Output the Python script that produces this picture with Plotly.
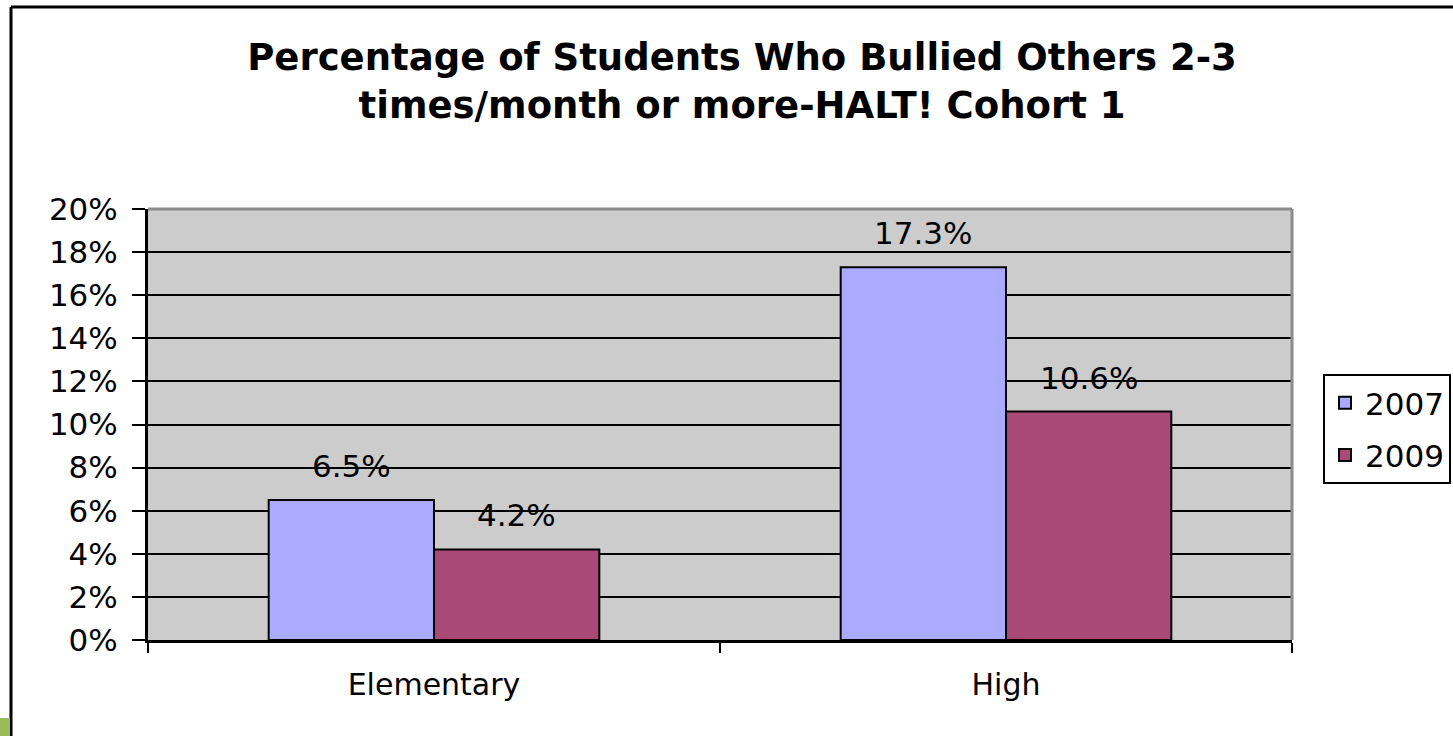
import plotly.graph_objects as go

categories = ["Elementary", "High"]
series_names = ["2007", "2009"]
values_2007 = [0.065, 0.173]
values_2009 = [0.042, 0.106]
bar_colors = ["#AAAAFF", "#A94A76"]
y_ticks = [0.0, 0.02, 0.04, 0.06, 0.08, 0.10, 0.12, 0.14, 0.16, 0.18, 0.20]
title_text = "Percentage of Students Who Bullied Others 2-3<br>times/month or more-HALT! Cohort 1"

W, H = 1453, 736
ML, MR, MT, MB = 148, 161, 209, 96
PW = W - ML - MR
PH = H - MT - MB
bargap = 0.422

def px_x(px):
    return (px - ML) / PW

def px_y(py):
    return (H - MB - py) / PH

fig = go.Figure()
all_vals = [values_2007, values_2009]
for name, vals, col in zip(series_names, all_vals, bar_colors):
    fig.add_trace(go.Bar(
        x=categories, y=vals, name=name, legendgroup=name,
        marker=dict(color=col, line=dict(color="black", width=2)),
        hoverinfo="skip",
    ))

# value labels above bars
off = (1 - bargap) / 4
for k, vals in enumerate(all_vals):
    sign = -1 if k == 0 else 1
    for i, v in enumerate(vals):
        fig.add_annotation(
            x=i + sign * off, y=v, xref="x", yref="y",
            text=f"{v*100:.1f}%", showarrow=False,
            yshift=34, yanchor="middle", xanchor="center",
            font=dict(family="DejaVu Sans", size=31, color="black"),
        )

shapes = []
# gray top and right plot borders
shapes.append(dict(type="line", xref="paper", yref="paper", x0=0, x1=1, y0=1, y1=1,
                   line=dict(color="#8C8C8C", width=3)))
shapes.append(dict(type="line", xref="paper", yref="paper", x0=1, x1=1, y0=0, y1=1,
                   line=dict(color="#8C8C8C", width=3)))
# outer frame (top and left)
shapes.append(dict(type="line", xref="paper", yref="paper", x0=px_x(11), x1=px_x(1460),
                   y0=px_y(7), y1=px_y(7), line=dict(color="black", width=3)))
shapes.append(dict(type="line", xref="paper", yref="paper", x0=px_x(11), x1=px_x(11),
                   y0=px_y(7), y1=px_y(740), line=dict(color="black", width=3)))
# green corner patch
shapes.append(dict(type="rect", xref="paper", yref="paper", x0=px_x(-2), x1=px_x(10),
                   y0=px_y(718), y1=px_y(740), line=dict(width=0), fillcolor="#9BBB59"))

fig.update_layout(
    width=W, height=H,
    margin=dict(l=ML, r=MR, t=MT, b=MB, autoexpand=False),
    paper_bgcolor="white",
    plot_bgcolor="#CCCCCC",
    barmode="group",
    bargap=bargap,
    bargroupgap=0,
    title=dict(text=title_text, x=742 / W, xanchor="center", xref="container",
               y=1 - 70 / H, yanchor="middle", yref="container",
               font=dict(family="DejaVu Sans", size=37, color="black", weight="bold")),
    font=dict(family="DejaVu Sans", size=30, color="black"),
    showlegend=True,
    legend=dict(x=1323 / W, y=1 - 374 / H, xanchor="left", yanchor="top",
                xref="container", yref="container",
                bordercolor="black", borderwidth=2, bgcolor="white",
                font=dict(family="DejaVu Sans", size=31, color="black"),
                traceorder="grouped", tracegroupgap=9),
    shapes=shapes,
)
fig.update_xaxes(
    showgrid=False, showline=True, linecolor="black", linewidth=3,
    ticks="outside", tickson="boundaries", ticklen=10, tickwidth=2, tickcolor="black",
    ticklabelstandoff=16,
    tickfont=dict(family="DejaVu Sans", size=30), fixedrange=True,
)
fig.update_yaxes(
    range=[0, 0.20], tickvals=y_ticks, tickformat=".0%",
    showgrid=True, gridcolor="black", gridwidth=2,
    showline=True, linecolor="black", linewidth=3,
    ticks="outside", ticklen=13, tickwidth=2, tickcolor="black",
    ticklabelstandoff=8,
    tickfont=dict(family="DejaVu Sans", size=31), zeroline=False, fixedrange=True,
)
fig.write_html("out.html", config={"displayModeBar": False},
               post_script="document.body.style.margin='0';")
